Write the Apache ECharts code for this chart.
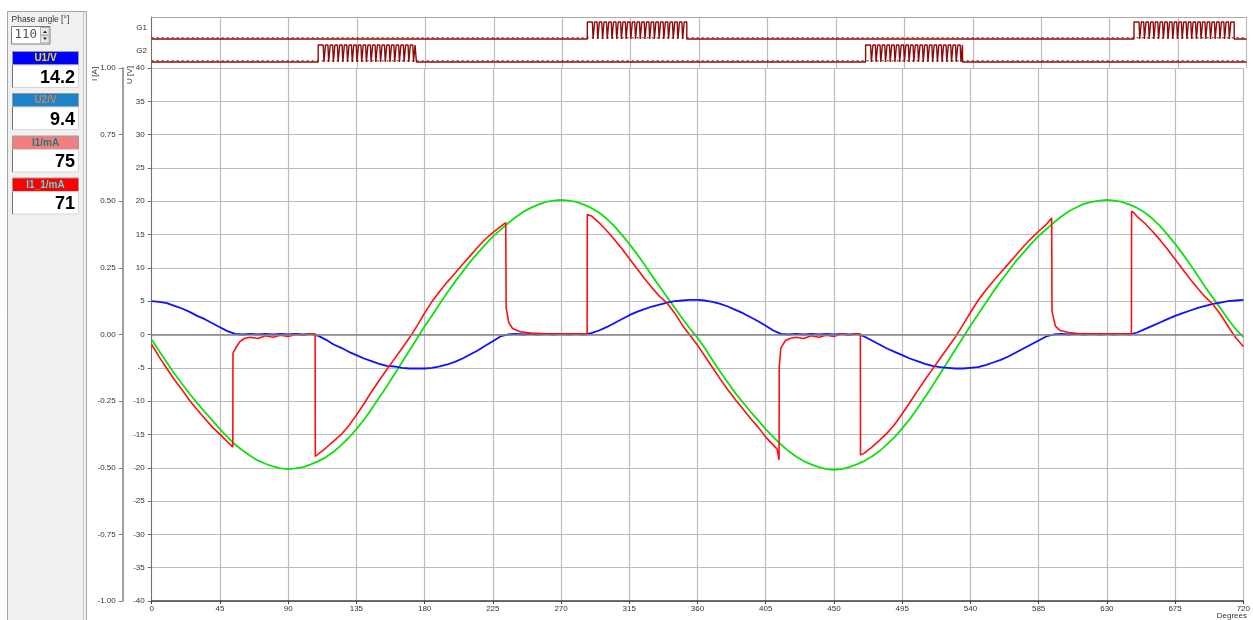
<!DOCTYPE html>
<html>
<head>
<meta charset="utf-8">
<title>Phase angle 110°</title>
<script src="https://cdn.jsdelivr.net/npm/echarts@6/dist/echarts.min.js"></script>
<style>
  html, body { margin: 0; padding: 0; background: #fff; }
  #chart { width: 1253px; height: 620px; }
</style>
</head>
<body>
<div id="chart"></div>
<script>
// ---- data ----
const phaseAngle = '110'

// sample positions for the green / blue traces, every 5 degrees
const sampleDeg = []
for (let d = 0; d <= 720; d += 5) sampleDeg.push(d)

// green trace [V], one value per sampleDeg
const greenTrace = [
  -0.8, -2.5, -4.2, -5.9, -7.4, -8.9, -10.3, -11.6, -12.9,
  -14.2, -15.4, -16.5, -17.4, -18.2, -18.9, -19.4, -19.8, -20.1,
  -20.2, -20.1, -19.9, -19.5, -19.0, -18.4, -17.6, -16.6, -15.5,
  -14.2, -12.8, -11.2, -9.5, -7.8, -6.0, -4.2, -2.4, -0.6,
  1.2, 2.9, 4.6, 6.3, 7.9, 9.4, 10.9, 12.2, 13.5,
  14.7, 15.7, 16.7, 17.6, 18.4, 19.0, 19.5, 19.9, 20.1,
  20.2, 20.1, 19.9, 19.5, 19.0, 18.3, 17.4, 16.3, 15.0,
  13.6, 12.1, 10.5, 8.8, 7.2, 5.6, 4.0, 2.4, 0.9,
  -0.5, -2.1, -3.9, -5.6, -7.2, -8.8, -10.2, -11.6, -12.9,
  -14.2, -15.4, -16.5, -17.5, -18.3, -19.0, -19.5, -19.9, -20.2,
  -20.3, -20.2, -19.9, -19.5, -19.0, -18.3, -17.5, -16.5, -15.4,
  -14.1, -12.7, -11.1, -9.4, -7.7, -5.9, -4.1, -2.3, -0.5,
  1.3, 3.0, 4.7, 6.4, 8.0, 9.5, 11.0, 12.3, 13.6,
  14.8, 15.8, 16.8, 17.7, 18.5, 19.1, 19.6, 19.9, 20.1,
  20.2, 20.1, 19.9, 19.5, 19.0, 18.3, 17.4, 16.3, 15.0,
  13.6, 12.1, 10.5, 8.8, 7.1, 5.5, 3.9, 2.3, 0.8,
  -0.4
]

// blue trace [V], one value per sampleDeg
const blueTrace = [
  5.0, 4.9, 4.7, 4.3, 3.9, 3.4, 2.8, 2.3, 1.7,
  1.1, 0.5, 0.1, 0.0, 0.1, 0.0, 0.1, 0.0, 0.1,
  0.0, 0.1, 0.0, 0.1, -0.2, -0.8, -1.5, -2.0, -2.6,
  -3.1, -3.6, -4.0, -4.4, -4.7, -4.8, -5.0, -5.1, -5.1,
  -5.1, -5.0, -4.8, -4.5, -4.1, -3.6, -3.0, -2.4, -1.7,
  -1.0, -0.3, 0.0, 0.1, 0.0, 0.1, 0.0, 0.1, 0.0,
  0.1, 0.0, 0.1, 0.0, 0.2, 0.6, 1.1, 1.7, 2.3,
  2.9, 3.4, 3.8, 4.2, 4.5, 4.8, 5.0, 5.1, 5.2,
  5.2, 5.1, 4.9, 4.6, 4.2, 3.7, 3.2, 2.6, 2.0,
  1.3, 0.6, 0.1, 0.0, 0.1, 0.0, 0.1, 0.0, 0.1,
  0.0, 0.1, 0.0, 0.1, -0.3, -0.9, -1.5, -2.1, -2.6,
  -3.1, -3.6, -4.0, -4.4, -4.7, -4.9, -5.0, -5.1, -5.1,
  -5.0, -4.9, -4.6, -4.2, -3.8, -3.3, -2.7, -2.1, -1.5,
  -0.9, -0.3, 0.0, 0.1, 0.0, 0.1, 0.0, 0.1, 0.0,
  0.1, 0.0, 0.1, 0.0, 0.3, 0.8, 1.3, 1.8, 2.3,
  2.8, 3.2, 3.6, 4.0, 4.3, 4.6, 4.8, 5.0, 5.1,
  5.2
]

// red trace as [degree, value on the U scale], repeated degrees = the jumps
const redTrace = [
  [0, -1.5], [5, -3.4], [10, -5.1], [15, -6.8], [20, -8.3], [25, -9.9], [30, -11.3],
  [35, -12.6], [40, -13.9], [45, -15.0], [50, -16.1], [53.5, -16.9],
  [53.6, -2.8], [56, -1.8], [58, -1.1], [61, -0.6], [65, -0.4], [70, -0.6], [75, -0.2],
  [80, -0.4], [85, -0.1], [90, -0.3], [95, 0.0], [100, -0.1], [105, 0.1], [107.8, 0.1],
  [107.9, -18.3], [110, -17.9], [115, -17.0], [120, -16.0], [125, -15.0], [130, -13.7],
  [135, -12.1], [140, -10.4], [145, -8.6], [150, -6.9], [155, -5.3], [160, -3.7],
  [165, -2.1], [170, -0.5], [175, 1.3], [180, 3.2], [185, 5.0], [190, 6.5], [195, 7.9],
  [200, 9.2], [205, 10.5], [210, 11.8], [215, 13.1], [220, 14.3], [225, 15.3],
  [230, 16.2], [233.5, 16.8],
  [233.8, 4.0], [235.5, 1.8], [238, 0.9], [243, 0.4], [250, 0.2], [260, 0.1],
  [270, 0.1], [280, 0.1], [287.2, 0.1],
  [287.3, 18.0], [290, 17.8], [295, 16.8], [300, 15.6], [305, 14.3], [310, 12.9],
  [315, 11.4], [320, 9.9], [325, 8.4], [330, 7.0], [335, 5.7], [340, 4.7], [345, 3.2],
  [350, 1.4], [355, -0.1], [360, -1.6], [365, -3.3], [370, -5.0], [375, -6.7],
  [380, -8.3], [385, -9.8], [390, -11.2], [395, -12.6], [400, -13.9], [405, -15.4],
  [410, -16.6], [412.5, -17.2], [413.8, -18.8],
  [413.9, -4.8], [415, -2.0], [418, -0.9], [421, -0.6], [425, -0.4], [430, -0.6],
  [435, -0.2], [440, -0.4], [445, -0.1], [450, -0.3], [455, 0.1], [460, -0.1],
  [465, 0.1], [467.4, 0.1],
  [467.5, -18.1], [470, -17.8], [475, -16.9], [480, -15.9], [485, -14.8], [490, -13.5],
  [495, -11.9], [500, -10.2], [505, -8.5], [510, -6.8], [515, -5.2], [520, -3.6],
  [525, -2.0], [530, -0.4], [535, 1.4], [540, 3.3], [545, 5.1], [550, 6.6], [555, 8.0],
  [560, 9.3], [565, 10.6], [570, 11.9], [575, 13.2], [580, 14.4], [585, 15.5],
  [590, 16.5], [593.6, 17.5],
  [593.8, 3.5], [596, 1.3], [599, 0.6], [605, 0.3], [612, 0.1], [620, 0.1], [630, 0.1],
  [640, 0.1], [646.2, 0.1],
  [646.3, 18.5], [648, 18.2], [650, 17.7], [655, 16.7], [660, 15.5], [665, 14.2],
  [670, 12.8], [675, 11.3], [680, 9.8], [685, 8.3], [690, 6.9], [695, 5.6], [700, 4.5],
  [705, 3.0], [710, 1.2], [715, -0.5], [720, -1.8]
]

// gate signals: firing bursts [start, end] in degrees, notches inside a burst
const g1Bursts = [[286.5, 351.9], [646, 711.9]]
const g2Bursts = [[109.5, 174.1], [469.5, 533.3]]
const notchOffsets = [3.3, 6.4, 9.5, 12.6, 15.7, 18.8, 21.9, 25.0, 28.1, 31.2,
  34.3, 37.4, 40.5, 43.6, 46.7, 49.8, 52.9, 56.0, 59.1, 62.2]

// meters on the left
const meterNames = ['U1/V', 'U2/V', 'I1/mA', 'I1_1/mA']
const meterValues = ['14.2', '9.4', '75', '71']

// ---- styling ----
const fontFamily = "'Liberation Sans', Arial, sans-serif"
const gridColor = '#bcbcbc'
const gateColor = '#8e0b0b'
const plotLeft = 151.7
const plotRight = 6.5

function zip (xs, ys) {
  return xs.map((x, i) => [x, ys[i]])
}

// build a step trace 0/1 from bursts
function gateTrace (bursts) {
  const pts = [[0, 0]]
  bursts.forEach(([s, e]) => {
    pts.push([s, 0], [s, 1])
    notchOffsets.forEach(o => {
      const t = s + o
      if (t + 1.5 < e) pts.push([t, 1], [t + 0.5, 0], [t + 1.0, 0], [t + 1.5, 1])
    })
    pts.push([e, 1], [e, 0])
  })
  pts.push([720, 0])
  return pts
}

function txt (text, x, y, font, fill, align, rotation) {
  return {
    type: 'text',
    x: x,
    y: y,
    rotation: rotation || 0,
    silent: true,
    style: {
      text: text,
      font: font,
      fill: fill,
      align: align,
      textAlign: align,
      verticalAlign: 'middle',
      textVerticalAlign: 'middle'
    }
  }
}

// left panel
const headerFill = ['#0000ff', '#1c84c6', '#f08080', '#ff0000']
const headerText = ['#e2e200', '#c8845c', '#2f7676', '#52dcdc']
const meterTop = [51.5, 93.5, 136, 178]

const panel = [
  { type: 'rect', silent: true, shape: { x: 7.5, y: 11.5, width: 79, height: 612 },
    style: { fill: '#f0f0f0', stroke: '#a4a4a4', lineWidth: 1 } },
  { type: 'line', silent: true, shape: { x1: 83.5, y1: 12, x2: 83.5, y2: 620 },
    style: { stroke: '#c8c8c8', lineWidth: 1 } },
  txt('Phase angle [°]', 11.5, 19.5, '8.5px ' + fontFamily, '#333', 'left'),
  { type: 'rect', silent: true, shape: { x: 11.5, y: 26.5, width: 38.5, height: 17.5 },
    style: { fill: '#fff', stroke: '#7c7c7c', lineWidth: 1 } },
  { type: 'rect', silent: true, shape: { x: 40.5, y: 27.5, width: 8.5, height: 7.5 },
    style: { fill: '#e8e8e8', stroke: '#b0b0b0', lineWidth: 1 } },
  { type: 'rect', silent: true, shape: { x: 40.5, y: 35.5, width: 8.5, height: 7.5 },
    style: { fill: '#e8e8e8', stroke: '#b0b0b0', lineWidth: 1 } },
  { type: 'polygon', silent: true, shape: { points: [[43, 33], [47, 33], [45, 30.5]] },
    style: { fill: '#222' } },
  { type: 'polygon', silent: true, shape: { points: [[43, 37.5], [47, 37.5], [45, 40]] },
    style: { fill: '#222' } },
  txt(phaseAngle, 14.5, 35, "12.5px 'DejaVu Sans Mono', monospace", '#555', 'left')
]

meterNames.forEach((name, i) => {
  const top = meterTop[i]
  panel.push(
    { type: 'rect', silent: true, shape: { x: 12.5, y: top, width: 66, height: 13.5 },
      style: { fill: headerFill[i], stroke: '#9a9a9a', lineWidth: 1 } },
    txt(name, 45.5, top + 7, 'bold 10px ' + fontFamily, headerText[i], 'center'),
    { type: 'rect', silent: true, shape: { x: 12.5, y: top + 13.5, width: 66, height: 22.5 },
      style: { fill: '#fff', stroke: '#d6d6d6', lineWidth: 1 } },
    { type: 'line', silent: true, shape: { x1: 12.5, y1: top + 13.5, x2: 12.5, y2: top + 36 },
      style: { stroke: '#707070', lineWidth: 1 } },
    txt(meterValues[i], 75, top + 26.5, 'bold 18px ' + fontFamily, '#000', 'right')
  )
})

// axis titles and gate names
const labels = [
  txt('I [A]', 95, 74, '8px ' + fontFamily, '#333', 'center', Math.PI / 2),
  txt('U [V]', 130, 75, '8px ' + fontFamily, '#333', 'center', Math.PI / 2),
  txt('G1', 147, 28, '8px ' + fontFamily, '#333', 'right'),
  txt('G2', 147, 51, '8px ' + fontFamily, '#333', 'right'),
  txt('Degrees', 1247, 616, '8px ' + fontFamily, '#333', 'right')
]

const chart = echarts.init(document.getElementById('chart'), null, { renderer: 'canvas' })

chart.setOption({
  animation: false,
  backgroundColor: '#fff',
  textStyle: { fontFamily: fontFamily },
  graphic: { elements: panel.concat(labels) },
  grid: [
    { left: plotLeft, right: plotRight, top: 17, height: 51 },
    { left: plotLeft, right: plotRight, top: 68, bottom: 19 }
  ],
  xAxis: [
    {
      gridIndex: 0, type: 'value', min: 0, max: 720, interval: 45, position: 'top',
      axisLine: { show: true, onZero: false, lineStyle: { color: '#a8a8a8', width: 1 } },
      axisTick: { show: false },
      axisLabel: { show: false },
      splitLine: { show: true, lineStyle: { color: gridColor, width: 1.2 } }
    },
    {
      gridIndex: 1, type: 'value', min: 0, max: 720, interval: 45, position: 'bottom',
      axisLine: { show: true, onZero: false, lineStyle: { color: '#404040', width: 1.5 } },
      axisTick: { show: true, length: 3, lineStyle: { color: '#404040' } },
      axisLabel: { fontSize: 8, color: '#333', margin: 4, fontFamily: fontFamily },
      splitLine: { show: true, lineStyle: { color: gridColor, width: 1.2 } }
    }
  ],
  yAxis: [
    {
      // G1 level: 0 low, 1 high
      gridIndex: 0, type: 'value', min: -1.706, max: 1.294,
      axisLine: { show: true, lineStyle: { color: '#707070' } },
      axisTick: { show: false }, axisLabel: { show: false }, splitLine: { show: false }
    },
    {
      // G2 level
      gridIndex: 0, type: 'value', min: -0.353, max: 2.647, show: false
    },
    {
      // U [V]
      gridIndex: 1, type: 'value', min: -40, max: 40, interval: 5, position: 'left',
      axisLine: { show: true, onZero: false, lineStyle: { color: '#707070' } },
      axisTick: { show: true, length: 4, lineStyle: { color: '#707070' } },
      axisLabel: { fontSize: 8, color: '#333', margin: 7, fontFamily: fontFamily },
      splitLine: { show: true, lineStyle: { color: gridColor, width: 1.2 } }
    },
    {
      // I [A]
      gridIndex: 1, type: 'value', min: -1, max: 1, interval: 0.25, position: 'left', offset: 29,
      axisLine: { show: true, onZero: false, lineStyle: { color: '#a0a0a0', width: 2 } },
      axisTick: { show: true, length: 4, lineStyle: { color: '#888' } },
      axisLabel: { fontSize: 8, color: '#333', margin: 7, fontFamily: fontFamily,
        formatter: v => v.toFixed(2) },
      splitLine: { show: false }
    }
  ],
  series: [
    {
      // zero line
      type: 'line', xAxisIndex: 1, yAxisIndex: 2, data: [], z: 1,
      markLine: {
        silent: true, symbol: 'none', label: { show: false },
        lineStyle: { color: '#858585', width: 1.5, type: 'solid' },
        data: [{ yAxis: 0 }]
      }
    },
    {
      name: 'G1', type: 'line', xAxisIndex: 0, yAxisIndex: 0, showSymbol: false,
      data: gateTrace(g1Bursts), lineStyle: { color: gateColor, width: 1.4 }
    },
    {
      name: 'G2', type: 'line', xAxisIndex: 0, yAxisIndex: 1, showSymbol: false,
      data: gateTrace(g2Bursts), lineStyle: { color: gateColor, width: 1.4 }
    },
    {
      name: 'G1 base', type: 'line', xAxisIndex: 0, yAxisIndex: 0, showSymbol: false,
      data: [[0, 0.07], [720, 0.07]],
      lineStyle: { color: gateColor, width: 1, type: [2, 3] }
    },
    {
      name: 'G2 base', type: 'line', xAxisIndex: 0, yAxisIndex: 1, showSymbol: false,
      data: [[0, 0.07], [720, 0.07]],
      lineStyle: { color: gateColor, width: 1, type: [2, 3] }
    },
    {
      name: 'green', type: 'line', xAxisIndex: 1, yAxisIndex: 2, showSymbol: false, z: 3,
      data: zip(sampleDeg, greenTrace), lineStyle: { color: '#10e010', width: 1.8 }
    },
    {
      name: 'blue', type: 'line', xAxisIndex: 1, yAxisIndex: 2, showSymbol: false, z: 3,
      data: zip(sampleDeg, blueTrace), lineStyle: { color: '#1010ff', width: 1.8 }
    },
    {
      name: 'red', type: 'line', xAxisIndex: 1, yAxisIndex: 2, showSymbol: false, z: 4,
      data: redTrace, lineStyle: { color: '#ff1010', width: 1.6 }
    }
  ]
})
</script>
</body>
</html>
